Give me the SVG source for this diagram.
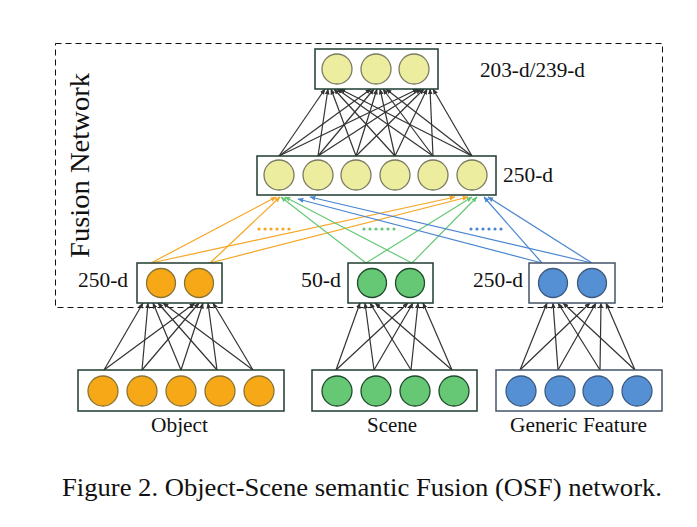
<svg xmlns="http://www.w3.org/2000/svg" width="697" height="527" viewBox="0 0 697 527">
<style>
text{font-family:"Liberation Serif","Times New Roman",serif;fill:#111}
.box{fill:#fff;stroke:#1f3d2f;stroke-width:1.5}
.box2{fill:#fff;stroke:#44546a;stroke-width:1.5}
.y{fill:#eded9f;stroke:#7a7a62;stroke-width:1.3}
.o{fill:#f7a817;stroke:#8a7433;stroke-width:1.3}
.g{fill:#66c875;stroke:#1f4a2c;stroke-width:1.3}
.b{fill:#5590d5;stroke:#3c5a80;stroke-width:1.3}
.k{stroke:#333;stroke-width:1.2;fill:none;marker-end:url(#ak)}
.lo{stroke:#f5a623;stroke-width:1.2;fill:none;marker-end:url(#ao)}
.lg{stroke:#66c875;stroke-width:1.2;fill:none;marker-end:url(#ag)}
.lb{stroke:#4a86d0;stroke-width:1.2;fill:none;marker-end:url(#ab)}
</style>
<defs>
<marker id="ak" viewBox="0 0 10 10" refX="9" refY="5" markerWidth="6" markerHeight="6" markerUnits="userSpaceOnUse" orient="auto"><path d="M0,1 L10,5 L0,9 Z" fill="#333"/></marker>
<marker id="ao" viewBox="0 0 10 10" refX="9" refY="5" markerWidth="6" markerHeight="6" markerUnits="userSpaceOnUse" orient="auto"><path d="M0,1 L10,5 L0,9 Z" fill="#f5a623"/></marker>
<marker id="ag" viewBox="0 0 10 10" refX="9" refY="5" markerWidth="6" markerHeight="6" markerUnits="userSpaceOnUse" orient="auto"><path d="M0,1 L10,5 L0,9 Z" fill="#66c875"/></marker>
<marker id="ab" viewBox="0 0 10 10" refX="9" refY="5" markerWidth="6" markerHeight="6" markerUnits="userSpaceOnUse" orient="auto"><path d="M0,1 L10,5 L0,9 Z" fill="#4a86d0"/></marker>
</defs>

<rect x="55.5" y="43.5" width="607" height="264" fill="none" stroke="#111" stroke-width="1" stroke-dasharray="6,4"/>
<text transform="translate(89,258) rotate(-90)" font-size="28" textLength="185" lengthAdjust="spacingAndGlyphs">Fusion Network</text>

<g id="connectors">
<g>
<line class="k" x1="279" y1="156" x2="325" y2="89"/><line class="k" x1="318" y1="156" x2="328" y2="89"/><line class="k" x1="356" y1="156" x2="331" y2="89"/><line class="k" x1="395" y1="156" x2="334" y2="89"/><line class="k" x1="433" y1="156" x2="337" y2="89"/><line class="k" x1="472" y1="156" x2="340" y2="89"/>
<line class="k" x1="279" y1="156" x2="371" y2="89"/><line class="k" x1="318" y1="156" x2="374" y2="89"/><line class="k" x1="356" y1="156" x2="377" y2="89"/><line class="k" x1="395" y1="156" x2="380" y2="89"/><line class="k" x1="433" y1="156" x2="383" y2="89"/><line class="k" x1="472" y1="156" x2="386" y2="89"/>
<line class="k" x1="279" y1="156" x2="418" y2="89"/><line class="k" x1="318" y1="156" x2="421" y2="89"/><line class="k" x1="356" y1="156" x2="424" y2="89"/><line class="k" x1="395" y1="156" x2="427" y2="89"/><line class="k" x1="433" y1="156" x2="430" y2="89"/><line class="k" x1="472" y1="156" x2="433" y2="89"/>
</g>
<line class="lo" x1="151" y1="263" x2="276" y2="197"/><line class="lo" x1="210" y1="263" x2="280" y2="197"/><line class="lo" x1="151" y1="263" x2="455" y2="197"/><line class="lo" x1="210" y1="263" x2="468" y2="197"/>
<line class="lg" x1="366" y1="263" x2="281" y2="197"/><line class="lg" x1="412" y1="263" x2="285" y2="197"/><line class="lg" x1="366" y1="263" x2="472" y2="197"/><line class="lg" x1="412" y1="263" x2="477" y2="197"/>
<line class="lb" x1="542" y1="263" x2="298" y2="199"/><line class="lb" x1="592" y1="263" x2="310" y2="197"/><line class="lb" x1="542" y1="263" x2="484" y2="197"/><line class="lb" x1="592" y1="263" x2="488" y2="197"/>
<g fill="#f5a623"><circle cx="259" cy="229" r="1.6"/><circle cx="265" cy="229" r="1.6"/><circle cx="271" cy="229" r="1.6"/><circle cx="277" cy="229" r="1.6"/><circle cx="283" cy="229" r="1.6"/><circle cx="289" cy="229" r="1.6"/></g>
<g fill="#66c875"><circle cx="364" cy="229" r="1.6"/><circle cx="370" cy="229" r="1.6"/><circle cx="376" cy="229" r="1.6"/><circle cx="382" cy="229" r="1.6"/><circle cx="388" cy="229" r="1.6"/><circle cx="394" cy="229" r="1.6"/></g>
<g fill="#4a86d0"><circle cx="471" cy="229" r="1.6"/><circle cx="477" cy="229" r="1.6"/><circle cx="483" cy="229" r="1.6"/><circle cx="489" cy="229" r="1.6"/><circle cx="495" cy="229" r="1.6"/><circle cx="501" cy="229" r="1.6"/></g>
<line class="k" x1="104" y1="370" x2="143" y2="303"/><line class="k" x1="142" y1="370" x2="148" y2="303"/><line class="k" x1="181" y1="370" x2="153" y2="303"/><line class="k" x1="217" y1="370" x2="158" y2="303"/><line class="k" x1="253" y1="370" x2="163" y2="303"/>
<line class="k" x1="104" y1="370" x2="195" y2="303"/><line class="k" x1="142" y1="370" x2="199" y2="303"/><line class="k" x1="181" y1="370" x2="203" y2="303"/><line class="k" x1="217" y1="370" x2="208" y2="303"/><line class="k" x1="253" y1="370" x2="213" y2="303"/>
<line class="k" x1="336" y1="370" x2="360" y2="303"/><line class="k" x1="374" y1="370" x2="365" y2="303"/><line class="k" x1="411" y1="370" x2="370" y2="303"/><line class="k" x1="452" y1="370" x2="375" y2="303"/>
<line class="k" x1="336" y1="370" x2="408" y2="303"/><line class="k" x1="374" y1="370" x2="413" y2="303"/><line class="k" x1="411" y1="370" x2="418" y2="303"/><line class="k" x1="452" y1="370" x2="423" y2="303"/>
<line class="k" x1="520" y1="370" x2="547" y2="303"/><line class="k" x1="558" y1="370" x2="553" y2="303"/><line class="k" x1="600" y1="370" x2="558" y2="303"/><line class="k" x1="635" y1="370" x2="563" y2="303"/>
<line class="k" x1="520" y1="370" x2="590" y2="303"/><line class="k" x1="558" y1="370" x2="596" y2="303"/><line class="k" x1="600" y1="370" x2="601" y2="303"/><line class="k" x1="635" y1="370" x2="606" y2="303"/>
</g>

<g id="top-layer">
<rect class="box" x="315" y="49" width="123" height="40"/>
<circle class="y" cx="337" cy="69" r="15"/><circle class="y" cx="376" cy="69" r="15"/><circle class="y" cx="414" cy="69" r="15"/>
<text x="480" y="77" font-size="20" textLength="105" lengthAdjust="spacingAndGlyphs">203-d/239-d</text>
</g>

<g id="middle-layer">
<rect class="box" x="257" y="156" width="239" height="39"/>
<circle class="y" cx="279" cy="175" r="15"/><circle class="y" cx="318" cy="175" r="15"/><circle class="y" cx="356" cy="175" r="15"/><circle class="y" cx="395" cy="175" r="15"/><circle class="y" cx="433" cy="175" r="15"/><circle class="y" cx="472" cy="175" r="15"/>
<text x="503" y="182" font-size="20" textLength="50" lengthAdjust="spacingAndGlyphs">250-d</text>
</g>

<g id="object-hidden">
<rect class="box" x="137" y="263" width="85" height="40"/>
<circle class="o" cx="161" cy="283" r="14.5"/><circle class="o" cx="199" cy="283" r="14.5"/>
<text x="78" y="287" font-size="20" textLength="50" lengthAdjust="spacingAndGlyphs">250-d</text>
</g>
<g id="scene-hidden">
<rect class="box" x="348" y="263" width="85" height="40"/>
<circle class="g" cx="372" cy="283" r="14.5"/><circle class="g" cx="410" cy="283" r="14.5"/>
<text x="301" y="287" font-size="20" textLength="40" lengthAdjust="spacingAndGlyphs">50-d</text>
</g>
<g id="generic-hidden">
<rect class="box2" x="529" y="263" width="86" height="40"/>
<circle class="b" cx="553" cy="283" r="14.5"/><circle class="b" cx="592" cy="283" r="14.5"/>
<text x="473" y="287" font-size="20" textLength="50" lengthAdjust="spacingAndGlyphs">250-d</text>
</g>

<g id="object-input">
<rect class="box" x="78" y="370" width="206" height="41"/>
<circle class="o" cx="103" cy="391" r="15"/><circle class="o" cx="142" cy="391" r="15"/><circle class="o" cx="181" cy="391" r="15"/><circle class="o" cx="220" cy="391" r="15"/><circle class="o" cx="259" cy="391" r="15"/>
<text x="151" y="432" font-size="20" textLength="57" lengthAdjust="spacingAndGlyphs">Object</text>
</g>
<g id="scene-input">
<rect class="box" x="312" y="370" width="165" height="41"/>
<circle class="g" cx="337" cy="391" r="15"/><circle class="g" cx="376" cy="391" r="15"/><circle class="g" cx="415" cy="391" r="15"/><circle class="g" cx="454" cy="391" r="15"/>
<text x="367" y="432" font-size="20" textLength="50" lengthAdjust="spacingAndGlyphs">Scene</text>
</g>
<g id="generic-input">
<rect class="box2" x="496" y="370" width="166" height="41"/>
<circle class="b" cx="521" cy="391" r="15"/><circle class="b" cx="560" cy="391" r="15"/><circle class="b" cx="598" cy="391" r="15"/><circle class="b" cx="637" cy="391" r="15"/>
<text x="510" y="432" font-size="20" textLength="137" lengthAdjust="spacingAndGlyphs">Generic Feature</text>
</g>

<text x="62" y="496" font-size="26" textLength="600" lengthAdjust="spacingAndGlyphs">Figure 2. Object-Scene semantic Fusion (OSF) network.</text>
</svg>
